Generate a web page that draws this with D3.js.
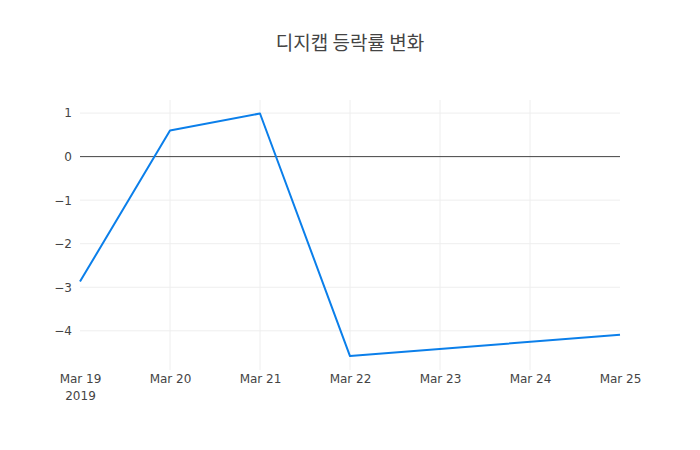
<!DOCTYPE html>
<html>
<head>
<meta charset="utf-8">
<script src="https://cdn.jsdelivr.net/npm/d3@7"></script>
<style>
  body { margin: 0; background: #fff; }
  svg { font-family: "DejaVu Sans", "Noto Sans CJK KR", sans-serif; }
</style>
</head>
<body>
<div id="chart"></div>
<script>
// Data
const dates = ["2019-03-19", "2019-03-20", "2019-03-21", "2019-03-22", "2019-03-25"];
const changes = [-2.87, 0.60, 0.99, -4.58, -4.09];
const yTicks = [-4, -3, -2, -1, 0, 1];
const title = "디지캡 등락률 변화";

const parse = d3.timeParse("%Y-%m-%d");
const data = dates.map((d, i) => ({ date: parse(d), value: changes[i] }));

const W = 700, H = 450;
const margin = { top: 100, right: 80, bottom: 80, left: 80 };
const width = W - margin.left - margin.right;
const height = H - margin.top - margin.bottom;
const tickFont = "'DejaVu Sans', Verdana, sans-serif";

const svg = d3.select("#chart").append("svg")
    .attr("width", W)
    .attr("height", H);

svg.append("text")
    .attr("x", W / 2)
    .attr("y", 50)
    .attr("text-anchor", "middle")
    .attr("font-family", "'Noto Sans CJK KR', sans-serif")
    .attr("font-size", 19)
    .attr("fill", "#444")
    .text(title);

const g = svg.append("g")
    .attr("transform", `translate(${margin.left},${margin.top})`);

// Scales
const x = d3.scaleTime()
    .domain(d3.extent(data, d => d.date))
    .range([0, width]);

const y = d3.scaleLinear()
    .domain([-4.9, 1.3])
    .range([height, 0]);

// Grid
const xTicks = d3.timeDay.range(parse("2019-03-19"), d3.timeDay.offset(parse("2019-03-25"), 1));

g.append("g")
    .selectAll("line")
    .data(xTicks.slice(1, -1))
    .join("line")
    .attr("x1", d => x(d)).attr("x2", d => x(d))
    .attr("y1", 0).attr("y2", height)
    .attr("stroke", "#eee");

g.append("g")
    .selectAll("line")
    .data(yTicks.filter(v => v !== 0))
    .join("line")
    .attr("x1", 0).attr("x2", width)
    .attr("y1", d => y(d)).attr("y2", d => y(d))
    .attr("stroke", "#eee");

// zero line
g.append("line")
    .attr("x1", 0).attr("x2", width)
    .attr("y1", y(0)).attr("y2", y(0))
    .attr("stroke", "#444")
    .attr("stroke-width", 1);

// Axes
const fmtDay = d3.timeFormat("%b %-d");
const xAxis = g.append("g")
    .attr("transform", `translate(0,${height})`)
    .call(d3.axisBottom(x).tickValues(xTicks).tickFormat(fmtDay).tickSize(0).tickPadding(4))
    .attr("font-family", tickFont)
    .attr("font-size", 12);
xAxis.select(".domain").remove();
xAxis.selectAll("text")
    .attr("fill", "#444");
xAxis.selectAll(".tick").filter((d, i) => i === 0)
    .append("text")
    .attr("y", 21)
    .attr("dy", "0.71em")
    .attr("text-anchor", "middle")
    .attr("fill", "#444")
    .text("2019");

const yAxis = g.append("g")
    .call(d3.axisLeft(y).tickValues(yTicks).tickFormat(d => d < 0 ? "\u2212" + Math.abs(d) : d).tickSize(0).tickPadding(8))
    .attr("font-family", tickFont)
    .attr("font-size", 12);
yAxis.select(".domain").remove();
yAxis.selectAll("text")
    .attr("fill", "#444");

// Line
const line = d3.line()
    .x(d => x(d.date))
    .y(d => y(d.value));

g.append("path")
    .datum(data)
    .attr("fill", "none")
    .attr("stroke", "#0b7fea")
    .attr("stroke-width", 2)
    .attr("stroke-linejoin", "round")
    .attr("d", line);
</script>
</body>
</html>
